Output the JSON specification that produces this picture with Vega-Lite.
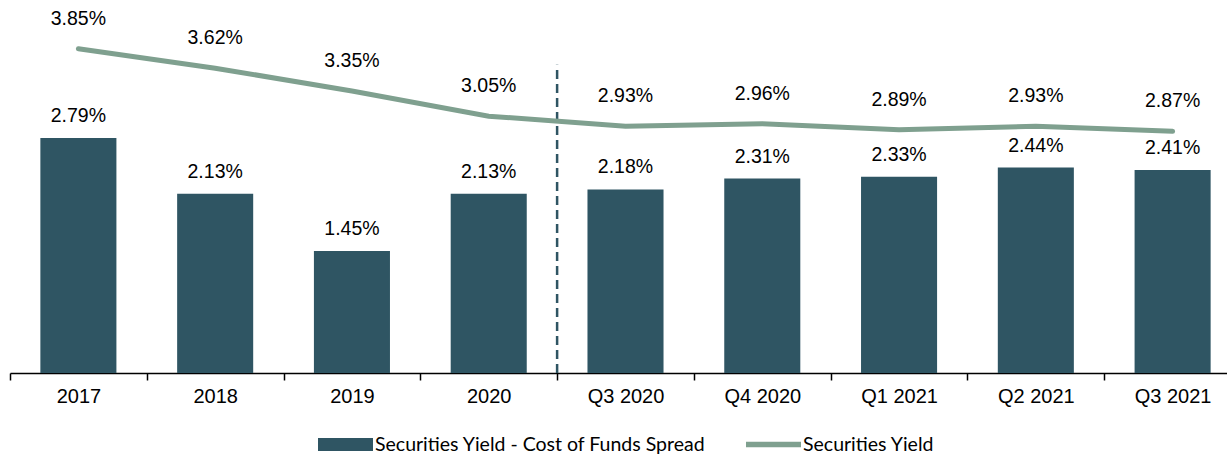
{
  "$schema": "https://vega.github.io/schema/vega-lite/v6.json",
  "autosize": {"type": "none"},
  "width": 1231,
  "height": 373,
  "padding": {"left": 10, "top": 0, "right": 0, "bottom": 81},
  "background": "white",
  "config": {"view": {"stroke": null}, "font": "Liberation Sans"},
  "datasets": {
    "main": [
      {"period": "2017", "series": "Securities Yield - Cost of Funds Spread", "value": 2.79, "label": "2.79%"},
      {"period": "2018", "series": "Securities Yield - Cost of Funds Spread", "value": 2.13, "label": "2.13%"},
      {"period": "2019", "series": "Securities Yield - Cost of Funds Spread", "value": 1.45, "label": "1.45%"},
      {"period": "2020", "series": "Securities Yield - Cost of Funds Spread", "value": 2.13, "label": "2.13%"},
      {"period": "Q3 2020", "series": "Securities Yield - Cost of Funds Spread", "value": 2.18, "label": "2.18%"},
      {"period": "Q4 2020", "series": "Securities Yield - Cost of Funds Spread", "value": 2.31, "label": "2.31%"},
      {"period": "Q1 2021", "series": "Securities Yield - Cost of Funds Spread", "value": 2.33, "label": "2.33%"},
      {"period": "Q2 2021", "series": "Securities Yield - Cost of Funds Spread", "value": 2.44, "label": "2.44%"},
      {"period": "Q3 2021", "series": "Securities Yield - Cost of Funds Spread", "value": 2.41, "label": "2.41%"},
      {"period": "2017", "series": "Securities Yield", "value": 3.85, "label": "3.85%"},
      {"period": "2018", "series": "Securities Yield", "value": 3.62, "label": "3.62%"},
      {"period": "2019", "series": "Securities Yield", "value": 3.35, "label": "3.35%"},
      {"period": "2020", "series": "Securities Yield", "value": 3.05, "label": "3.05%"},
      {"period": "Q3 2020", "series": "Securities Yield", "value": 2.93, "label": "2.93%"},
      {"period": "Q4 2020", "series": "Securities Yield", "value": 2.96, "label": "2.96%"},
      {"period": "Q1 2021", "series": "Securities Yield", "value": 2.89, "label": "2.89%"},
      {"period": "Q2 2021", "series": "Securities Yield", "value": 2.93, "label": "2.93%"},
      {"period": "Q3 2021", "series": "Securities Yield", "value": 2.87, "label": "2.87%"}
    ],
    "divider": [
      {"period": "Q3 2020", "bottom": 0, "top": 3.66}
    ]
  },
  "encoding": {
    "x": {
      "field": "period",
      "type": "nominal",
      "sort": null,
      "scale": {"paddingInner": 0, "paddingOuter": 0},
      "axis": {
        "title": null,
        "labelAngle": 0,
        "labelFontSize": 20,
        "labelColor": "#000000",
        "labelPadding": 6,
        "tickBand": "extent",
        "tickSize": 7,
        "tickColor": "#000000",
        "tickWidth": 1.5,
        "domainColor": "#000000",
        "domainWidth": 1.5,
        "grid": false
      }
    }
  },
  "layer": [
    {
      "data": {"name": "main"},
      "transform": [{"filter": "datum.series === 'Securities Yield - Cost of Funds Spread'"}],
      "mark": {"type": "bar", "width": {"band": 0.556}},
      "encoding": {
        "y": {"field": "value", "type": "quantitative", "scale": {"domain": [0, 4.43], "nice": false, "zero": true}, "axis": null},
        "color": {
          "field": "series",
          "type": "nominal",
          "scale": {"domain": ["Securities Yield - Cost of Funds Spread", "Securities Yield"], "range": ["#2F5563", "#7FA08F"]},
          "legend": {
            "title": null,
            "orient": "none",
            "legendX": 308,
            "legendY": 417,
            "direction": "horizontal",
            "labelFont": "Lato",
            "labelFontSize": 19.5,
            "labelLimit": 0,
            "labelColor": "#000000",
            "columnPadding": 40,
            "labelOffset": 2,
            "padding": 0,
            "symbolSize": 3025,
            "symbolStrokeWidth": 0,
            "encode": {
              "symbols": {
                "update": {
                  "shape": {"signal": "datum.value === 'Securities Yield' ? 'M-1,-0.1H1V0.1H-1Z' : 'M-1,-0.24H1V0.24H-1Z'"},
                  "fill": {"scale": "color", "field": "value"},
                  "strokeWidth": {"value": 0},
                  "opacity": {"value": 1}
                }
              }
            }
          }
        }
      }
    },
    {
      "data": {"name": "main"},
      "transform": [{"filter": "datum.series === 'Securities Yield - Cost of Funds Spread'"}],
      "mark": {"type": "text", "baseline": "alphabetic", "dy": -16, "fontSize": 19.5, "color": "#000000"},
      "encoding": {
        "y": {"field": "value", "type": "quantitative"},
        "text": {"field": "label"}
      }
    },
    {
      "data": {"name": "divider"},
      "mark": {"type": "rule", "strokeDash": [9, 5], "strokeWidth": 2.5, "color": "#2F5563"},
      "encoding": {
        "x": {"field": "period", "type": "nominal", "bandPosition": 0},
        "y": {"field": "bottom", "type": "quantitative"},
        "y2": {"field": "top"}
      }
    },
    {
      "data": {"name": "main"},
      "transform": [{"filter": "datum.series === 'Securities Yield'"}],
      "mark": {"type": "line", "strokeWidth": 5, "strokeCap": "round"},
      "encoding": {
        "y": {"field": "value", "type": "quantitative"},
        "color": {"field": "series", "type": "nominal"}
      }
    },
    {
      "data": {"name": "main"},
      "transform": [{"filter": "datum.series === 'Securities Yield'"}],
      "mark": {"type": "text", "baseline": "alphabetic", "dy": -24, "fontSize": 19.5, "color": "#000000"},
      "encoding": {
        "y": {"field": "value", "type": "quantitative"},
        "text": {"field": "label"}
      }
    }
  ]
}
